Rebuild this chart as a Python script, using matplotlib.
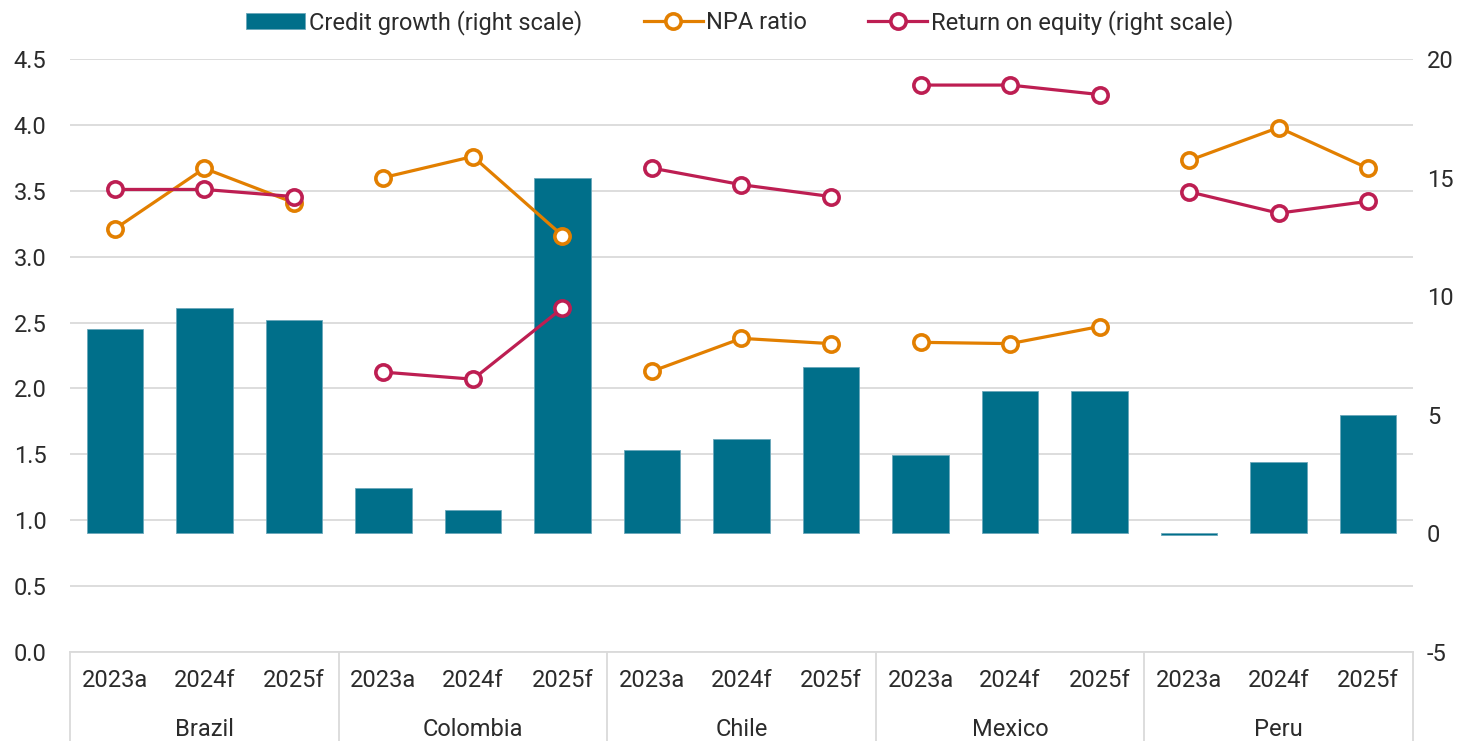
import matplotlib
matplotlib.use("Agg")
import matplotlib.pyplot as plt
import matplotlib.transforms as mtransforms
from matplotlib.lines import Line2D
import numpy as np

plt.rcParams['font.family'] = ['Roboto', 'DejaVu Sans']
plt.rcParams['axes.unicode_minus'] = False

# data
countries = ["Brazil", "Colombia", "Chile", "Mexico", "Peru"]
years = ["2023a", "2024f", "2025f"]
credit_growth = [8.6, 9.5, 9.0,
                 1.9, 1.0, 15.0,
                 3.5, 4.0, 7.0,
                 3.3, 6.0, 6.0,
                 -0.05, 3.0, 5.0]
npa_ratio = [3.21, 3.67, 3.41,
             3.60, 3.76, 3.16,
             2.13, 2.38, 2.34,
             2.35, 2.34, 2.47,
             3.73, 3.98, 3.67]
roe = [14.5, 14.5, 14.2,
       6.8, 6.5, 9.5,
       15.4, 14.7, 14.2,
       18.9, 18.9, 18.5,
       14.4, 13.5, 14.0]

bar_col = '#006f8a'
npa_col = '#e27f00'
roe_col = '#bd1e52'
grid_col = '#dadada'
text_col = '#2b2b2b'

n_years = len(years)
x = np.arange(len(countries) * n_years)

fig = plt.figure(figsize=(14.68, 7.41), dpi=100)
ax = fig.add_axes([0.0477, 0.1201, 0.9148, 0.8003])

# base axis: left scale, grid and left tick labels
ax.set_ylim(0, 4.5)
ax.set_yticks(np.arange(0, 4.51, 0.5))
ax.set_yticklabels([f"{v:.1f}" for v in np.arange(0, 4.51, 0.5)])
ax.yaxis.grid(True, color=grid_col, linewidth=1.3)
ax.set_axisbelow(True)
ax.set_xlim(-0.5, len(x) - 0.5)
ax.set_xticks(x)
ax.set_xticklabels(years * len(countries))
ax.tick_params(axis='both', length=0, labelsize=17, colors=text_col)
ax.tick_params(axis='y', pad=17)
ax.tick_params(axis='x', pad=12)
for s in ['top', 'right', 'left']:
    ax.spines[s].set_visible(False)
ax.spines['bottom'].set_color(grid_col)
ax.spines['bottom'].set_linewidth(1.3)

# bars on the right scale
axb = ax.twinx()
axb.set_ylim(-5, 20)
axb.set_yticks(np.arange(-5, 21, 5))
axb.tick_params(axis='y', length=0, labelsize=17, colors=text_col, pad=10)
bars = axb.bar(x, credit_growth, width=0.63, color=bar_col,
               edgecolor='#6aa7ba', linewidth=0.6,
               label="Credit growth (right scale)")

# NPA ratio on the left scale, drawn above the bars
axn = ax.twinx()
axn.set_ylim(0, 4.5)
axn.set_yticks([])
npa_lines = []
for g in range(len(countries)):
    sl = slice(g * n_years, (g + 1) * n_years)
    ln, = axn.plot(x[sl], npa_ratio[sl], color=npa_col, linewidth=2.3,
                   marker='o', markersize=11, markerfacecolor='white',
                   markeredgewidth=2.6, label="NPA ratio")
    npa_lines.append(ln)

# return on equity on the right scale, on top
axr = ax.twinx()
axr.set_ylim(-5, 20)
axr.set_yticks([])
roe_lines = []
for g in range(len(countries)):
    sl = slice(g * n_years, (g + 1) * n_years)
    ln, = axr.plot(x[sl], roe[sl], color=roe_col, linewidth=2.3,
                   marker='o', markersize=11, markerfacecolor='white',
                   markeredgewidth=2.6, label="Return on equity (right scale)")
    roe_lines.append(ln)

for a in (axb, axn, axr):
    for s in a.spines.values():
        s.set_visible(False)
    a.patch.set_visible(False)

# group separators and country names under the category labels
trans = mtransforms.blended_transform_factory(ax.transData, ax.transAxes)
for g in range(len(countries) + 1):
    xs = g * n_years - 0.5
    ax.add_line(Line2D([xs, xs], [0, -0.2], transform=trans, color=grid_col,
                       linewidth=1.3, clip_on=False))
for g, name in enumerate(countries):
    ax.text(g * n_years + (n_years - 1) / 2, -0.13, name, transform=trans,
            ha='center', va='center', fontsize=17, color=text_col)

leg = fig.legend([bars, npa_lines[0], roe_lines[0]],
                 ["Credit growth (right scale)", "NPA ratio",
                  "Return on equity (right scale)"],
                 loc='center', bbox_to_anchor=(0.504, 0.97), ncol=3,
                 frameon=False, fontsize=17, handlelength=2.5,
                 handletextpad=0.15, columnspacing=2.6, labelcolor=text_col)

fig.savefig("out.png", dpi=100)
